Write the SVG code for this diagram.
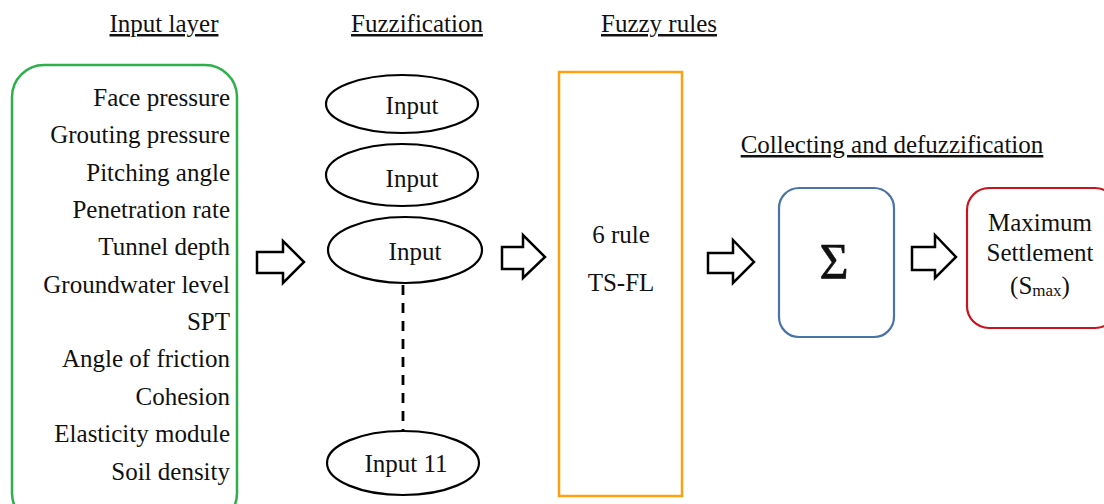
<svg xmlns="http://www.w3.org/2000/svg" width="1104" height="504" viewBox="0 0 1104 504">
<style>
.r{text-anchor:end}
.c{text-anchor:middle}
.arrow{fill:#fff;stroke:#000;stroke-width:2.5;stroke-linejoin:miter}
.ell{fill:#fff;stroke:#000;stroke-width:2.2}
</style>
<rect width="1104" height="504" fill="#fff"/>
<g id="titles" font-size="25" fill="#111" text-decoration="underline">
<text class="c" x="164" y="32" style="font-family:'Liberation Serif'">Input layer</text>
<text class="c" x="417" y="32" style="font-family:'Liberation Serif'">Fuzzification</text>
<text class="c" x="659" y="32" style="font-family:'Liberation Serif'">Fuzzy rules</text>
<text class="c" x="892" y="153" style="font-family:'Liberation Serif'">Collecting and defuzzification</text>
</g>
<g id="input-layer" font-size="25" fill="#111">
<rect x="12" y="65" width="225" height="460" rx="32" fill="#fff" stroke="#2DB04A" stroke-width="2.5"/>
<text class="r" x="230" y="106" style="font-family:'Liberation Serif'">Face pressure</text>
<text class="r" x="230" y="143" style="font-family:'Liberation Serif'">Grouting pressure</text>
<text class="r" x="230" y="181" style="font-family:'Liberation Serif'">Pitching angle</text>
<text class="r" x="230" y="218" style="font-family:'Liberation Serif'">Penetration rate</text>
<text class="r" x="230" y="255" style="font-family:'Liberation Serif'">Tunnel depth</text>
<text class="r" x="230" y="293" style="font-family:'Liberation Serif'">Groundwater level</text>
<text class="r" x="230" y="330" style="font-family:'Liberation Serif'">SPT</text>
<text class="r" x="230" y="367" style="font-family:'Liberation Serif'">Angle of friction</text>
<text class="r" x="230" y="405" style="font-family:'Liberation Serif'">Cohesion</text>
<text class="r" x="230" y="442" style="font-family:'Liberation Serif'">Elasticity module</text>
<text class="r" x="230" y="480" style="font-family:'Liberation Serif'">Soil density</text>
</g>
<g id="connectors">
<line x1="403" y1="285" x2="403" y2="431" stroke="#000" stroke-width="2.8" stroke-dasharray="10,8"/>
<polygon class="arrow" points="257,252 283,252 283,241 304,262 283,283 283,273 257,273"/>
<polygon class="arrow" points="502,247 523,247 523,235 545,257 523,278 523,269 502,269"/>
<polygon class="arrow" points="708,253 733,253 733,240 754,262 733,283 733,273 708,273"/>
<polygon class="arrow" points="912,247 935,247 935,235 956,257 935,278 935,270 912,270"/>
</g>
<g id="fuzz-1" font-size="25" fill="#111">
<ellipse class="ell" cx="402" cy="104" rx="76" ry="29"/>
<text class="c" x="412" y="114" style="font-family:'Liberation Serif'">Input</text>
</g>
<g id="fuzz-2" font-size="25" fill="#111">
<ellipse class="ell" cx="402" cy="175" rx="76" ry="31"/>
<text class="c" x="412" y="187" style="font-family:'Liberation Serif'">Input</text>
</g>
<g id="fuzz-3" font-size="25" fill="#111">
<ellipse class="ell" cx="405" cy="250" rx="77" ry="33"/>
<text class="c" x="415" y="260" style="font-family:'Liberation Serif'">Input</text>
</g>
<g id="fuzz-11" font-size="25" fill="#111">
<ellipse class="ell" cx="403" cy="463" rx="76" ry="32"/>
<text class="c" x="406" y="472" style="font-family:'Liberation Serif'">Input 11</text>
</g>
<g id="rules" font-size="25" fill="#111">
<rect x="559" y="72" width="123" height="424" fill="#fff" stroke="#FFA010" stroke-width="2.5"/>
<text class="c" x="621" y="243" style="font-family:'Liberation Serif'">6 rule</text>
<text class="c" x="621" y="291" style="font-family:'Liberation Serif'">TS-FL</text>
</g>
<g id="sum" fill="#111">
<rect x="779" y="188" width="115" height="149" rx="20" fill="#fff" stroke="#4A74A8" stroke-width="2.2"/>
<text class="c" x="834" y="278" font-size="50" stroke="#111" stroke-width="0.6" style="font-family:'Liberation Serif'">Σ</text>
</g>
<g id="output" font-size="25" fill="#111">
<rect x="967" y="188" width="150" height="140" rx="22" fill="#fff" stroke="#C8141E" stroke-width="2.2"/>
<text class="c" x="1040" y="231" style="font-family:'Liberation Serif'">Maximum</text>
<text class="c" x="1040" y="261" style="font-family:'Liberation Serif'">Settlement</text>
<text class="c" x="1040" y="294" style="font-family:'Liberation Serif'">(S<tspan font-size="17" dy="2">max</tspan><tspan dy="-2">)</tspan></text>
</g>
</svg>
